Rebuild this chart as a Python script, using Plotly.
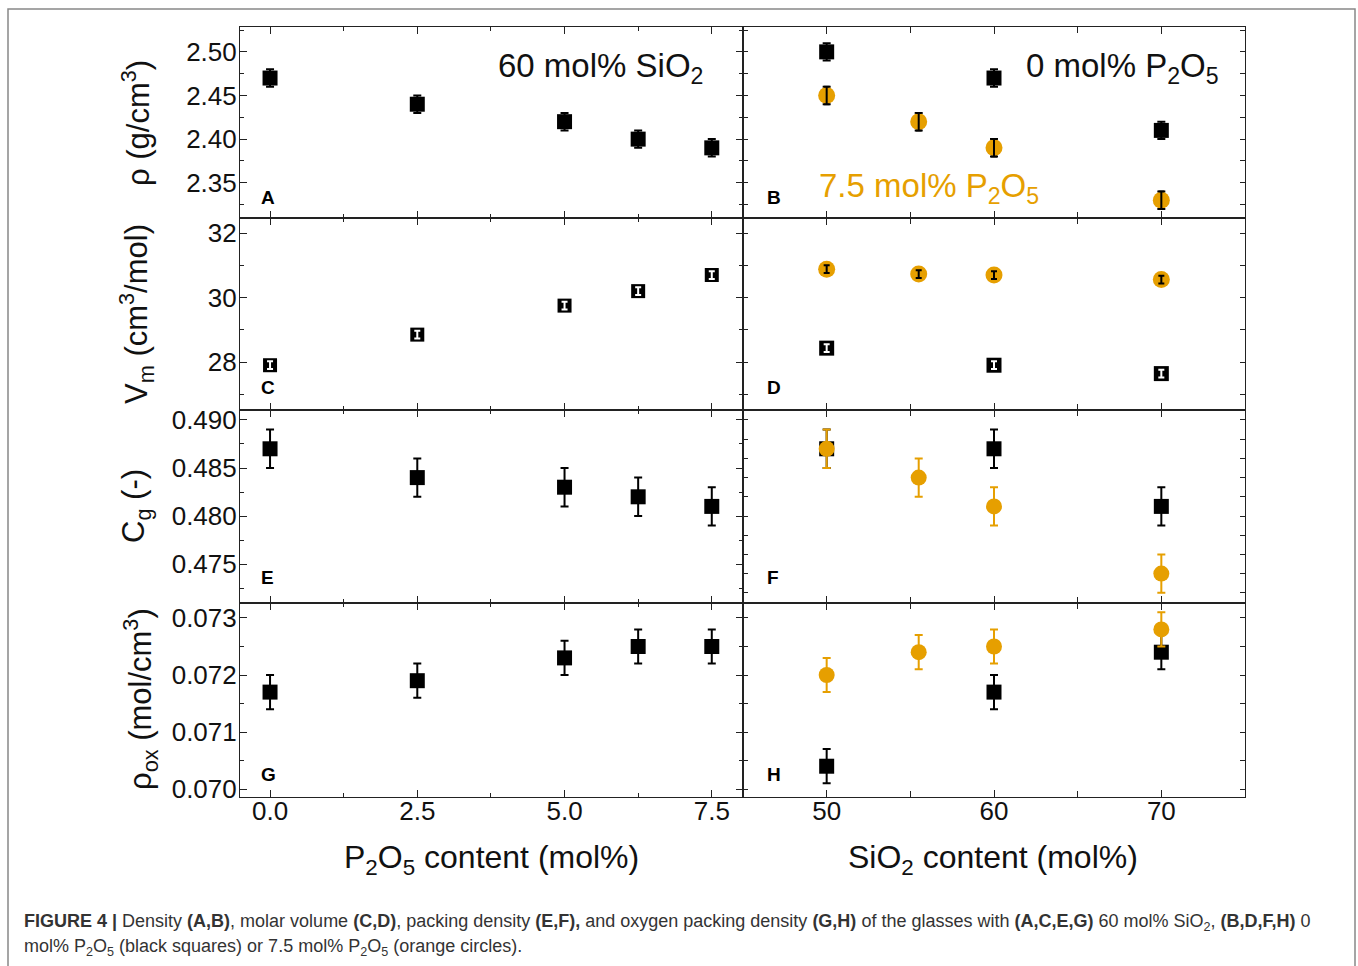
import plotly.graph_objects as go

# ---------------- data ----------------
p2o5 = [0.0, 2.5, 5.0, 6.25, 7.5]          # P2O5 content (mol%) at 60 mol% SiO2
sio2_black = [50, 60, 70]                  # SiO2 content, 0 mol% P2O5
sio2_orange = [50, 55.5, 60, 70]           # SiO2 content, 7.5 mol% P2O5

rho_A = [2.47, 2.44, 2.42, 2.40, 2.39]
rho_B_black = [2.50, 2.47, 2.41]
rho_B_orange = [2.45, 2.42, 2.39, 2.33]
rho_err = 0.01

vm_C = [27.9, 28.85, 29.75, 30.2, 30.7]
vm_D_black = [28.43, 27.9, 27.64]
vm_D_orange = [30.88, 30.73, 30.70, 30.56]
vm_err = 0.12

cg_E = [0.487, 0.484, 0.483, 0.482, 0.481]
cg_F_black = [0.487, 0.487, 0.481]
cg_F_orange = [0.487, 0.484, 0.481, 0.474]
cg_err = 0.002

rox_G = [0.0717, 0.0719, 0.0723, 0.0725, 0.0725]
rox_H_black = [0.0704, 0.0717, 0.0724]
rox_H_orange = [0.0720, 0.0724, 0.0725, 0.0728]
rox_err = 0.0003

left_xticks = [0.0, 2.5, 5.0, 7.5]
left_xticklabels = ["0.0", "2.5", "5.0", "7.5"]
right_xticks = [50, 60, 70]
right_xticklabels = ["50", "60", "70"]

ORANGE = "#E69F00"
BLACK = "#000000"
W, H = 1358, 966
FONT = "Liberation Sans, Arial, sans-serif"

# pixel geometry
XL, XM, XR = 240, 743, 1245
ROWS = [27, 218, 410, 603, 797]


def px(x):
    return x / W


def py(y):
    return 1 - y / H


fig = go.Figure()


def add_points(ax, x, y, err, color, symbol, size, err_color, overlay_color=None, thick=2, cap=4):
    xa = "x" if ax == 1 else f"x{ax}"
    ya = "y" if ax == 1 else f"y{ax}"
    fig.add_trace(go.Scatter(
        x=x, y=y, xaxis=xa, yaxis=ya, mode="markers",
        marker=dict(symbol=symbol, size=size, color=color, line=dict(width=0)),
        error_y=dict(type="constant", value=err, color=err_color, thickness=thick, width=cap),
        showlegend=False, hoverinfo="skip"))
    if overlay_color is not None:
        fig.add_trace(go.Scatter(
            x=x, y=y, xaxis=xa, yaxis=ya, mode="markers",
            marker=dict(size=1, color="rgba(0,0,0,0)"),
            error_y=dict(type="constant", value=err, color=overlay_color, thickness=thick, width=3),
            showlegend=False, hoverinfo="skip"))


# row 1: density
add_points(1, p2o5, rho_A, rho_err, BLACK, "square", 15, BLACK)
add_points(2, sio2_black, rho_B_black, rho_err, BLACK, "square", 15, BLACK)
add_points(2, sio2_orange, rho_B_orange, rho_err, ORANGE, "circle", 17, BLACK, overlay_color=BLACK)
# row 2: molar volume
add_points(3, p2o5, vm_C, vm_err, BLACK, "square", 14, BLACK, overlay_color="#FFFFFF")
add_points(4, sio2_black, vm_D_black, vm_err, BLACK, "square", 15, BLACK, overlay_color="#FFFFFF")
add_points(4, sio2_orange, vm_D_orange, vm_err, ORANGE, "circle", 17, BLACK, overlay_color=BLACK)
# row 3: packing density
add_points(5, p2o5, cg_E, cg_err, BLACK, "square", 15, BLACK)
add_points(6, sio2_black, cg_F_black, cg_err, BLACK, "square", 15, BLACK)
add_points(6, sio2_orange, cg_F_orange, cg_err, ORANGE, "circle", 16, ORANGE)
# row 4: oxygen packing density
add_points(7, p2o5, rox_G, rox_err, BLACK, "square", 15, BLACK)
add_points(8, sio2_black, rox_H_black, rox_err, BLACK, "square", 15, BLACK)
add_points(8, sio2_orange, rox_H_orange, rox_err, ORANGE, "circle", 16, ORANGE)

# ---------------- axes ----------------
yranges = [[2.3096, 2.5285], [26.51, 32.47], [0.47094, 0.49104], [0.06986, 0.073263]]
left_y = [dict(tick0=2.35, dtick=0.05, tickformat=".2f", minor=0.025),
          dict(tick0=28, dtick=2, tickformat="d", minor=1),
          dict(tick0=0.475, dtick=0.005, tickformat=".3f", minor=0.0025),
          dict(tick0=0.070, dtick=0.001, tickformat=".3f", minor=0.0005)]
right_y = [dict(tick0=2.35, dtick=0.025),
           dict(tick0=28, dtick=1),
           dict(tick0=0.490, dtick=0.002),
           dict(tick0=0.070, dtick=0.0005)]

common = dict(showline=True, linecolor="#222", linewidth=1.1, mirror="ticks",
              ticks="inside", ticklen=7, tickwidth=1.3, tickcolor="#222",
              showgrid=False, zeroline=False, automargin=False,
              tickfont=dict(family=FONT, size=26, color="#111"))

layout = dict()
for r in range(4):
    ydom = [py(ROWS[r + 1]), py(ROWS[r])]
    for c in range(2):
        i = r * 2 + c + 1
        xkey = "xaxis" if i == 1 else f"xaxis{i}"
        ykey = "yaxis" if i == 1 else f"yaxis{i}"
        anchor_x = "x" if i == 1 else f"x{i}"
        anchor_y = "y" if i == 1 else f"y{i}"
        show_x = (r == 3)
        if c == 0:
            xa = dict(common, domain=[px(XL), px(XM)], range=[-0.51, 8.03], anchor=anchor_y,
                      tickmode="array", tickvals=left_xticks, ticktext=left_xticklabels,
                      showticklabels=show_x, ticklabelstandoff=-9,
                      minor=dict(tick0=0, dtick=1.25, ticks="inside", ticklen=4, tickwidth=1.3, tickcolor="#222"))
            ly = left_y[r]
            ya = dict(common, domain=ydom, range=yranges[r], anchor=anchor_x,
                      tick0=ly["tick0"], dtick=ly["dtick"], tickformat=ly["tickformat"],
                      showticklabels=True, ticklabelstandoff=-3,
                      minor=dict(dtick=ly["minor"], ticks="inside", ticklen=4, tickwidth=1.3, tickcolor="#222"))
        else:
            xa = dict(common, domain=[px(XM), px(XR)], range=[45, 75], anchor=anchor_y,
                      tickmode="array", tickvals=right_xticks, ticktext=right_xticklabels,
                      showticklabels=show_x, ticklabelstandoff=-9,
                      minor=dict(tick0=45, dtick=5, ticks="inside", ticklen=6, tickwidth=1.3, tickcolor="#222"))
            ry = right_y[r]
            ya = dict(common, domain=ydom, range=yranges[r], anchor=anchor_x,
                      tick0=ry["tick0"], dtick=ry["dtick"], ticklen=5, showticklabels=False)
        layout[xkey] = xa
        layout[ykey] = ya

annotations = []


def ann(text, x, y, size, color="#111", xanchor="center", yanchor="middle", angle=0, bold=False):
    annotations.append(dict(text=f"<b>{text}</b>" if bold else text, x=px(x), y=py(y),
                            xref="paper", yref="paper", showarrow=False,
                            xanchor=xanchor, yanchor=yanchor, textangle=angle,
                            font=dict(family=FONT, size=size, color=color)))


# panel letters
for letter, (x, y) in zip("ABCDEFGH", [(268, 197), (774, 197), (268, 388), (774, 388),
                                          (267, 577), (773, 577), (268, 774), (774, 774)]):
    ann(letter, x, y, 19, color="#000", bold=True)

# in-panel labels
ann("60 mol% SiO<sub>2</sub>", 496, 68, 33, xanchor="left")
ann("0 mol% P<sub>2</sub>O<sub>5</sub>", 1024, 68, 33, xanchor="left")
ann("7.5 mol% P<sub>2</sub>O<sub>5</sub>", 817, 188, 33, color=ORANGE, xanchor="left")

# axis titles
ann("ρ (g/cm<sup>3</sup>)", 136, 123, 31, angle=-90)
ann("V<sub>m</sub> (cm<sup>3</sup>/mol)", 136, 314, 31, angle=-90)
ann("C<sub>g</sub> (-)", 136, 506, 31, angle=-90)
ann("ρ<sub>ox</sub> (mol/cm<sup>3</sup>)", 140, 699, 31, angle=-90)
ann("P<sub>2</sub>O<sub>5</sub> content (mol%)", 491, 859, 32)
ann("SiO<sub>2</sub> content (mol%)", 993, 859, 32)

# caption
cap1 = ("<b>FIGURE 4 |</b> Density <b>(A,B)</b>, molar volume <b>(C,D)</b>, packing density <b>(E,F),</b> "
        "and oxygen packing density <b>(G,H)</b> of the glasses with <b>(A,C,E,G)</b> 60 mol% SiO<sub>2</sub>, "
        "<b>(B,D,F,H)</b> 0")
cap2 = "mol% P<sub>2</sub>O<sub>5</sub> (black squares) or 7.5 mol% P<sub>2</sub>O<sub>5</sub> (orange circles)."
ann(cap1, 22, 922, 18, color="#333", xanchor="left")
ann(cap2, 22, 947, 18, color="#333", xanchor="left")

fig.update_layout(
    **layout,
    annotations=annotations,
    shapes=[dict(type="rect", xref="paper", yref="paper",
                 x0=px(8), x1=px(1355), y0=-0.05, y1=py(9),
                 line=dict(color="#888", width=1.5), fillcolor="rgba(0,0,0,0)")],
    width=W, height=H,
    margin=dict(l=0, r=0, t=0, b=0, pad=0),
    paper_bgcolor="white", plot_bgcolor="white",
    showlegend=False,
    font=dict(family=FONT, color="#111"),
)

fig.write_html("out.html", config=dict(displayModeBar=False))
